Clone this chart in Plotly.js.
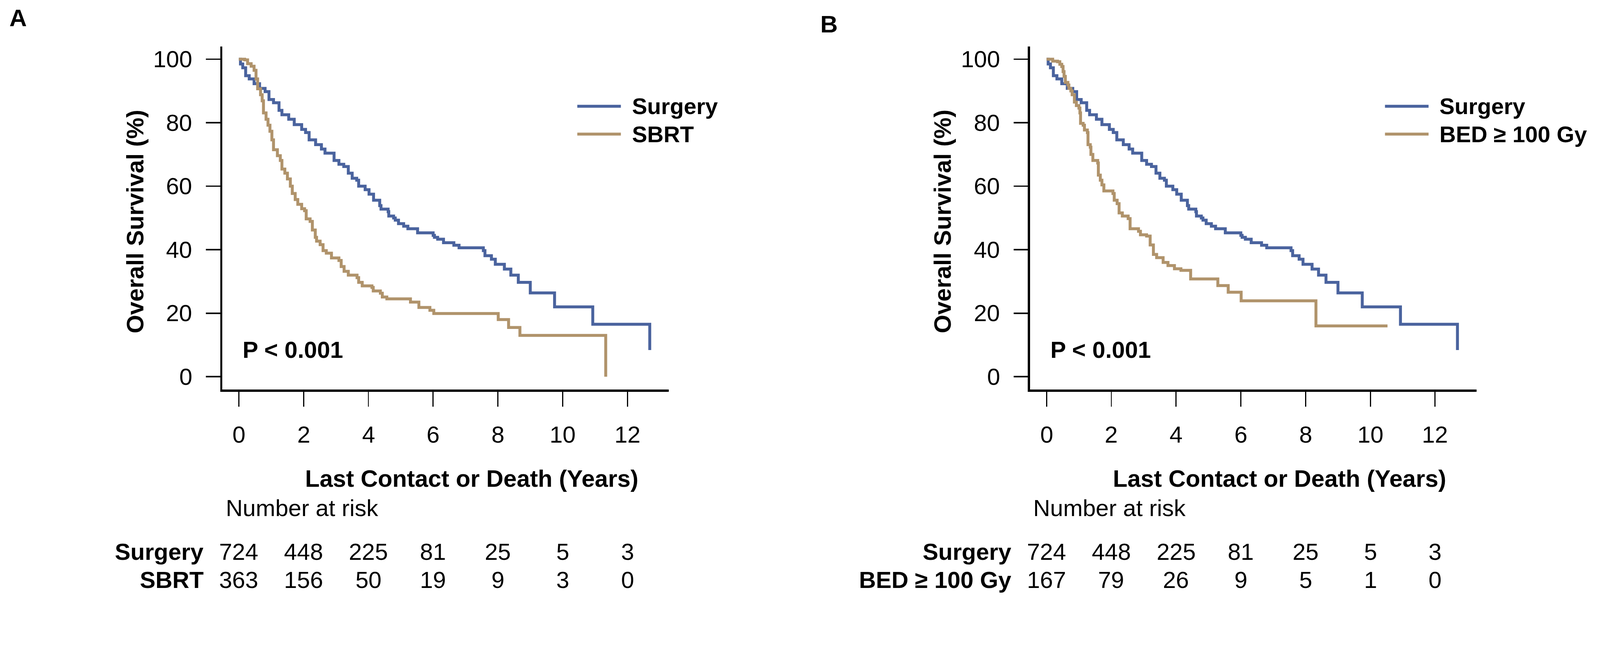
<!DOCTYPE html>
<html>
<head>
<meta charset="utf-8">
<script src="https://cdn.plot.ly/plotly-3.0.1.min.js"></script>
<style>
html,body{margin:0;padding:0;background:#fff;overflow:hidden;}
#chart{position:absolute;left:0;top:0;}
</style>
</head>
<body>
<div id="chart"></div>
<script>
// ---------------- DATA ----------------
const surgeryTime = [0,0.05,0.12,0.21,0.32,0.47,0.64,0.81,0.93,1.07,1.24,1.33,1.54,1.71,1.94,2.06,2.17,2.37,2.55,2.66,2.94,3.09,3.24,3.38,3.5,3.64,3.7,3.9,4.02,4.16,4.35,4.39,4.61,4.63,4.78,4.83,4.93,5.09,5.22,5.52,6.0,6.04,6.14,6.32,6.64,6.8,7.55,7.6,7.8,7.92,8.2,8.4,8.63,9.0,9.75,10.93,12.69];
const surgerySurv = [100,98.5,97.3,94.8,93.8,92.3,90.8,89.8,87.3,86.3,83.9,82.5,81.1,79.4,77.9,76.9,74.6,73.1,71.7,70.4,68.1,66.9,66.2,64.1,62.5,61.9,60,58.9,57.5,55.6,53.9,52.8,52,50.6,50,49.3,48.2,47.4,46.6,45.3,44.5,43.9,43.3,42.2,41.4,40.6,39.7,38.1,37,35.4,33.9,32,29.7,26.4,22,16.5,8.4];

const sbrtTime = [0,0.18,0.27,0.38,0.47,0.53,0.58,0.67,0.72,0.76,0.84,0.9,0.96,1.02,1.07,1.19,1.28,1.33,1.42,1.5,1.59,1.65,1.74,1.82,1.94,2.03,2.08,2.2,2.27,2.36,2.4,2.51,2.6,2.7,2.86,3.09,3.16,3.25,3.38,3.65,3.7,3.81,4.11,4.15,4.37,4.43,4.57,5.3,5.56,5.9,6.02,8.01,8.33,8.68,11.33];
const sbrtSurv = [100,99.8,98.6,97.8,96.5,93.8,90.7,88.8,86.9,83.1,81.1,79.2,77.3,74.6,71.5,69.6,68.1,65.4,64.1,62.3,60,57.7,55.8,54.3,52.9,52.3,49.7,48.9,46.2,43.9,42.7,41.6,39.7,38.9,37.4,36.6,34.7,33.2,32,31.2,29.7,28.6,28.1,27,26.3,25.1,24.5,23.5,21.8,20.9,19.9,18,15.5,13,0];

const bedTime = [0,0.19,0.34,0.41,0.47,0.51,0.54,0.58,0.66,0.69,0.75,0.79,0.86,0.92,1.0,1.03,1.05,1.13,1.17,1.26,1.28,1.35,1.37,1.43,1.58,1.6,1.66,1.71,1.77,2.05,2.09,2.18,2.24,2.34,2.52,2.58,2.84,2.9,3.09,3.2,3.3,3.4,3.6,3.75,3.95,4.15,4.45,5.29,5.61,6.01,8.32,10.53];
const bedSurv = [100,99.4,99.2,98.4,97.7,96.1,94.6,92.7,91.9,90.8,90,88.8,86.5,85.4,84.6,83.1,79.8,79.2,77.7,76.9,73.1,72.3,70,68.1,67.3,63.5,61.9,60.4,58.5,57.7,55.6,54.5,51.6,50.6,49.8,46.6,45.8,44.7,44.3,41.5,38.5,37.5,36,35,34,33.5,30.8,28.7,26.6,23.9,16,16];

const riskTimes = [0,2,4,6,8,10,12];
const riskSurgery = [724,448,225,81,25,5,3];
const riskSBRT = [363,156,50,19,9,3,0];
const riskBED = [167,79,26,9,5,1,0];

const xTicks = [0,2,4,6,8,10,12];
const yTicks = [0,20,40,60,80,100];

const groupNamesA = ["Surgery","SBRT"];
const groupNamesB = ["Surgery","BED \u2265 100 Gy"];
const pText = "P < 0.001";

// ---------------- STYLE ----------------
const REF_W = 4368, REF_H = 1651;
const vw = document.documentElement.clientWidth || window.innerWidth || REF_W;
const vh = document.documentElement.clientHeight || window.innerHeight || REF_H;
const S = Math.min(vw / REF_W, vh / REF_H);
const W = Math.round(REF_W * S), H = Math.round(REF_H * S);
const z = v => v * S;              // scale a reference-pixel size
const BLUE = "#4a639e", TAN = "#b0936b";
const FONT = "Liberation Sans, Arial, Helvetica, sans-serif";
const fx = p => p / REF_W;
const fy = p => 1 - p / REF_H;
const OFF = 2205; // horizontal offset of panel B (reference px)

function font(sz){ return {family: FONT, size: z(sz), color: "#000"}; }

function axisX(dom, anchor){
  return {domain: dom, anchor: anchor, range: [-0.51, 13.28], tickvals: xTicks,
    ticks: "outside", ticklen: z(40), tickwidth: z(3), tickcolor: "#000", showticklabels: false,
    showline: true, linewidth: z(7), linecolor: "#000", showgrid: false, zeroline: false, fixedrange: true};
}
function axisY(dom, anchor){
  return {domain: dom, anchor: anchor, range: [-4, 104], tickvals: yTicks,
    ticks: "outside", ticklen: z(39), tickwidth: z(4), tickcolor: "#000", showticklabels: false,
    showline: true, linewidth: z(6), linecolor: "#000", showgrid: false, zeroline: false, fixedrange: true};
}

const yDom = [fy(1063), fy(127)];
const xDomA = [fx(607), fx(1826)];
const xDomB = [fx(607 + OFF), fx(1826 + OFF)];

function curve(t, s, color, xa, ya){
  return {x: t, y: s, type: "scatter", mode: "lines", line: {shape: "hv", color: color, width: z(8)},
    xaxis: xa, yaxis: ya, showlegend: false, hoverinfo: "skip"};
}

const traces = [
  curve(surgeryTime, surgerySurv, BLUE, "x", "y"),
  curve(sbrtTime, sbrtSurv, TAN, "x", "y"),
  curve(surgeryTime, surgerySurv, BLUE, "x2", "y2"),
  curve(bedTime, bedSurv, TAN, "x2", "y2")
];

const ann = [];
const shapes = [];
function txt(text, x, y, opts){
  ann.push(Object.assign({text: text, x: fx(x), y: fy(y), xref: "paper", yref: "paper",
    showarrow: false, xanchor: "left", yanchor: "middle", font: font(64)}, opts || {}));
}
function bold(s){ return "<b>" + s + "</b>"; }

[0, OFF].forEach((o, i) => {
  const names = i === 0 ? groupNamesA : groupNamesB;
  const xr = i === 0 ? "x" : "x2";
  const yr = i === 0 ? "y" : "y2";
  // tick labels (positioned through the axis scales)
  xTicks.forEach(t => ann.push({text: String(t), x: t, xref: xr, y: fy(1186), yref: "paper", showarrow: false,
    xanchor: "center", yanchor: "middle", font: font(64)}));
  yTicks.forEach(v => ann.push({text: String(v), y: v, yref: yr, x: fx(527 + o), xref: "paper", showarrow: false,
    xanchor: "right", yanchor: "middle", font: font(64)}));
  txt(bold("Overall Survival (%)"), 369 + o, 605, {xanchor: "center", textangle: -90, font: font(65)});
  txt(bold("Last Contact or Death (Years)"), 1288 + o, 1307, {xanchor: "center", font: font(65)});
  txt(bold(pText), 660 + o, 955, {font: font(64)});
  txt("Number at risk", 614 + o, 1387, {});
  txt(bold(names[0]), 558 + o, 1507, {xanchor: "right"});
  txt(bold(names[1]), 558 + o, 1583, {xanchor: "right"});
  const r2 = i === 0 ? riskSBRT : riskBED;
  riskTimes.forEach((t, k) => {
    ann.push({text: String(riskSurgery[k]), x: t, xref: xr, y: fy(1507), yref: "paper", showarrow: false,
      xanchor: "center", yanchor: "middle", font: font(64)});
    ann.push({text: String(r2[k]), x: t, xref: xr, y: fy(1583), yref: "paper", showarrow: false,
      xanchor: "center", yanchor: "middle", font: font(64)});
  });
  [[names[0], BLUE, 290], [names[1], TAN, 366]].forEach(([n, c, yy]) => {
    shapes.push({type: "line", xref: "paper", yref: "paper", x0: fx(1576 + o), x1: fx(1695 + o), y0: fy(yy), y1: fy(yy),
      line: {color: c, width: z(8)}});
    txt(bold(n), 1723 + o, yy, {font: font(62)});
  });
});
txt(bold("A"), 23, 49, {font: font(66)});
txt(bold("B"), 2237, 66, {font: font(66)});

const layout = {
  width: W, height: H, margin: {l: 0, r: 0, t: 0, b: 0},
  paper_bgcolor: "#fff", plot_bgcolor: "#fff", showlegend: false,
  xaxis: axisX(xDomA, "y"), yaxis: axisY(yDom, "x"),
  xaxis2: axisX(xDomB, "y2"), yaxis2: axisY(yDom, "x2"),
  annotations: ann, shapes: shapes
};

const el = document.getElementById("chart");
el.style.width = W + "px"; el.style.height = H + "px";
Plotly.newPlot(el, traces, layout, {staticPlot: true, displayModeBar: false});
</script>
</body>
</html>
